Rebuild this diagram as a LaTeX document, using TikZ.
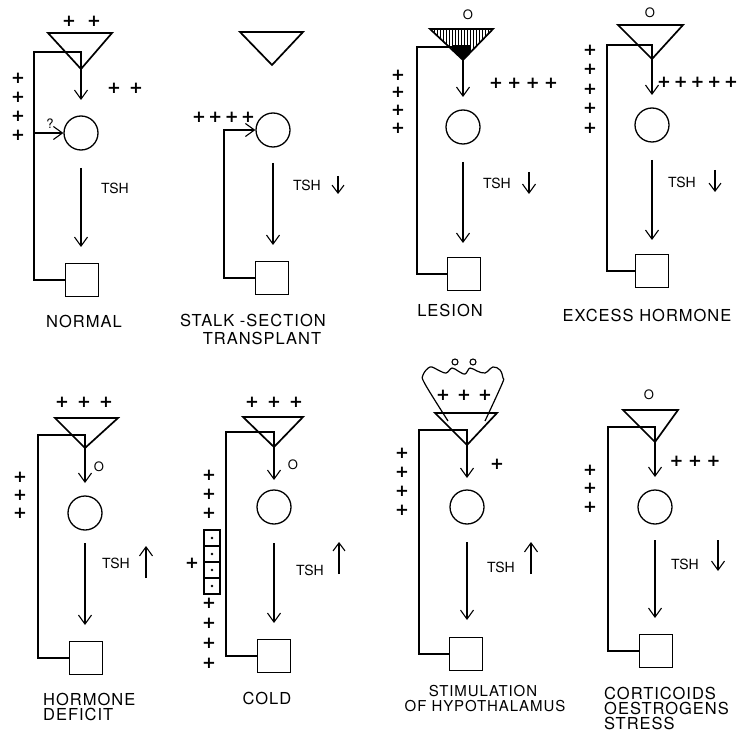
\documentclass[tikz,border=0pt]{standalone}
\usepackage{fontspec}
\usetikzlibrary{arrows.meta}
\newfontfamily\hf{TeX Gyre Heros}
\newfontfamily\pf{DejaVu Sans}
\newfontfamily\labf[LetterSpace=6]{TeX Gyre Heros}
\tikzset{
 ln/.style={line width=1.2pt, line join=miter},
 tri/.style={line width=1.7pt, line join=miter},
 arr/.style={line width=1.1pt, -{Straight Barb[length=9pt,width=13pt]}},
 sarr/.style={line width=1.1pt, -{Straight Barb[length=8pt,width=12pt]}},
 circ/.style={circle, draw, line width=1.3pt, minimum size=34pt, inner sep=0pt},
 sq/.style={rectangle, draw, line width=1.3pt, minimum size=33pt, inner sep=0pt},
 prow/.style={font=\pf\fontsize{16.5}{19}\selectfont\bfseries, inner sep=0pt},
 pcol/.style={font=\pf\fontsize{16.5}{#1}\selectfont\bfseries, align=center, inner sep=0pt},
 tsh/.style={font=\hf\fontsize{14}{16}\selectfont, inner sep=0pt},
 zero/.style={font=\hf\fontsize{13}{16}\selectfont, inner sep=0pt},
 lab/.style={font=\labf\fontsize{16.5}{18}\selectfont, inner sep=0pt},
 slab/.style={font=\labf\fontsize{15}{16}\selectfont, inner sep=0pt},
 cell/.style={rectangle, draw, line width=1.1pt, minimum size=16pt, inner sep=0pt},
}
\begin{document}
\begin{tikzpicture}[x=1pt,y=-1pt]
\fill[white] (0,0) rectangle (741,735);
\useasboundingbox (0,0) rectangle (741,735);

% ---------- Panel 1: NORMAL
\coordinate (a1) at (81,69);
\draw[tri] (48,33) -- (112,33) -- (a1) -- cycle;
\node[circ] (c1) at (81,133) {};
\node[sq] (q1) at (82,280) {};
\coordinate (k1) at (34,52);
\coordinate (t1) at (81,100);
\coordinate (s1) at (81,168);
\coordinate (e1) at (81,247);
\draw[ln] (q1.west) -| (k1) -- (k1 -| a1) -- (a1);
\draw[arr] (a1) -- (t1);
\draw[arr] (k1 |- c1) -- (c1.west);
\draw[arr] (s1) -- (e1);
\node[prow] (p1t) at (81.5,21) {+\kern11.2pt+};
\node[prow] (p1r) at (125,88) {+\kern8.2pt+};
\node[pcol=19] (p1l) at (18,106.5) {+\\+\\+\\+};
\node[zero] (qm1) at (50,124) {?};
\node[tsh] (tsh1) at (115,188) {TSH};
\node[lab] (l1) at (84,321) {NORMAL};

% ---------- Panel 2: STALK-SECTION TRANSPLANT
\coordinate (a2) at (272,65);
\draw[tri] (240,32) -- (303,32) -- (a2) -- cycle;
\node[circ] (c2) at (273,130) {};
\node[sq] (q2) at (272,278) {};
\coordinate (k2) at (224,130);
\coordinate (s2) at (273,163);
\coordinate (e2) at (273,245);
\draw[arr] (q2.west) -| (k2) -- (c2.west);
\draw[arr] (s2) -- (e2);
\node[prow] (p2l) at (223.5,117) {+\kern2.5pt+\kern2.5pt+\kern2.5pt+};
\node[tsh] (tsh2) at (307,185) {TSH};
\coordinate (d2a) at (338,176);
\coordinate (d2b) at (338,194);
\draw[sarr] (d2a) -- (d2b);
\node[lab] (l2a) at (253,320) {STALK -SECTION};
\node[lab] (l2b) at (262,338) {TRANSPLANT};

% ---------- Panel 3: LESION
\coordinate (a3) at (463,60);
\begin{scope}
 \clip (430,29) -- (493,29) -- (a3) -- cycle;
 \foreach \x in {431,434,...,493} \draw[line width=0.7pt] (\x,29) -- (\x,60);
 \fill (452,45) rectangle (470,62);
\end{scope}
\draw[tri] (430,29) -- (493,29) -- (a3) -- cycle;
\node[circ] (c3) at (463,127) {};
\node[sq] (q3) at (464,274) {};
\coordinate (k3) at (417,47);
\coordinate (t3) at (463,97);
\coordinate (s3) at (463,162);
\coordinate (e3) at (463,243);
\draw[ln] (q3.west) -| (k3) -- (k3 -| a3) -- (a3);
\draw[arr] (a3) -- (t3);
\draw[arr] (s3) -- (e3);
\node[zero] (z3) at (468,15) {O};
\node[prow] (p3r) at (523.5,83) {+\kern4.5pt+\kern4.5pt+\kern4.5pt+};
\node[pcol=17.7] (p3l) at (398,101.5) {+\\+\\+\\+};
\node[tsh] (tsh3) at (497,183) {TSH};
\coordinate (d3a) at (529,172);
\coordinate (d3b) at (529,194);
\draw[arr] (d3a) -- (d3b);
\node[lab] (l3) at (450,310) {LESION};

% ---------- Panel 4: EXCESS HORMONE
\coordinate (a4) at (652,59);
\draw[tri] (618,25) -- (683,25) -- (a4) -- cycle;
\node[circ] (c4) at (652,125) {};
\node[sq] (q4) at (652,271) {};
\coordinate (k4) at (607,45);
\coordinate (t4) at (652,95);
\coordinate (s4) at (652,160);
\coordinate (e4) at (652,240);
\draw[ln] (q4.west) -| (k4) -- (k4 -| a4) -- (a4);
\draw[arr] (a4) -- (t4);
\draw[arr] (s4) -- (e4);
\node[zero] (z4) at (650,13) {O};
\node[prow] (p4r) at (697.5,82) {+\kern2.95pt+\kern2.95pt+\kern2.95pt+\kern2.95pt+};
\node[pcol=19.5] (p4l) at (590,89) {+\\+\\+\\+\\+};
\node[tsh] (tsh4) at (682,182) {TSH};
\coordinate (d4a) at (715,170);
\coordinate (d4b) at (715,192);
\draw[sarr] (d4a) -- (d4b);
\node[lab] (l4) at (647,315) {EXCESS HORMONE};

% ---------- Panel 5: HORMONE DEFICIT
\coordinate (a5) at (85,448);
\draw[tri] (55,418) -- (118,418) -- (a5) -- cycle;
\node[circ] (c5) at (85,513) {};
\node[sq] (q5) at (86,658) {};
\coordinate (k5) at (38,435);
\coordinate (t5) at (85,483);
\coordinate (s5) at (85,543);
\coordinate (e5) at (85,625);
\draw[ln] (q5.west) -| (k5) -- (k5 -| a5) -- (a5);
\draw[arr] (a5) -- (t5);
\draw[arr] (s5) -- (e5);
\node[prow] (p5t) at (84,402) {+\kern8.2pt+\kern8.2pt+};
\node[zero] (z5) at (99,467) {O};
\node[pcol=18] (p5l) at (20,495) {+\\+\\+};
\node[tsh] (tsh5) at (116,563) {TSH};
\coordinate (u5a) at (146,578);
\coordinate (u5b) at (146,546);
\draw[arr] (u5a) -- (u5b);
\node[lab, anchor=west] (l5a) at (43,699) {HORMONE};
\node[lab, anchor=west] (l5b) at (43,714) {DEFICIT};

% ---------- Panel 6: COLD
\coordinate (a6) at (274,447);
\draw[tri] (243,417) -- (303,417) -- (a6) -- cycle;
\node[circ] (c6) at (274,507) {};
\node[sq] (q6) at (274,656) {};
\coordinate (k6) at (226,432);
\coordinate (t6) at (274,480);
\coordinate (s6) at (274,543);
\coordinate (e6) at (274,623);
\draw[ln] (q6.west) -| (k6) -- (k6 -| a6) -- (a6);
\draw[arr] (a6) -- (t6);
\draw[arr] (s6) -- (e6);
\node[prow] (p6t) at (274,402) {+\kern8.2pt+\kern8.2pt+};
\node[zero] (z6) at (293,465) {O};
\node[pcol=19] (p6u) at (209,494) {+\\+\\+};
\node[pcol=20] (p6d) at (209,633) {+\\+\\+\\+};
\node[prow] (p6s) at (192,563) {+};
\foreach \i/\y in {1/538,2/554,3/570,4/586} {
  \node[cell] (b\i) at (212,\y) {};
  \fill (b\i.center) circle (1.3pt);
}
\node[tsh] (tsh6) at (310,570) {TSH};
\coordinate (u6a) at (339,574);
\coordinate (u6b) at (339,542);
\draw[sarr] (u6a) -- (u6b);
\node[lab] (l6) at (267,698) {COLD};

% ---------- Panel 7: STIMULATION OF HYPOTHALAMUS
\coordinate (a7) at (467,445);
\draw[line width=1.2pt, line join=round] plot[smooth, tension=0.6] coordinates {(448,421) (425,384) (423,375) (430,367) (438,370) (446,373) (452,368) (458,371) (465,374) (470,368) (477,371) (485,373) (493,367) (500,370) (503,378) (502,384) (485,421)};
\draw[line width=1.1pt] (455,362) circle (3pt);
\draw[line width=1.1pt] (473,362) circle (3pt);
\draw[tri] (435,413) -- (497,413) -- (a7) -- cycle;
\node[circ] (c7) at (467,507) {};
\node[sq] (q7) at (466,654) {};
\coordinate (k7) at (419,430);
\coordinate (t7) at (467,478);
\coordinate (s7) at (467,542);
\coordinate (e7) at (467,620);
\draw[ln] (q7.west) -| (k7) -- (k7 -| a7) -- (a7);
\draw[arr] (a7) -- (t7);
\draw[arr] (s7) -- (e7);
\node[prow] (p7t) at (464,395) {+\kern7.2pt+\kern7.2pt+};
\node[prow] (p7r) at (497,464) {+};
\node[pcol=19] (p7l) at (402,481.5) {+\\+\\+\\+};
\node[tsh] (tsh7) at (501,567) {TSH};
\coordinate (u7a) at (531,574);
\coordinate (u7b) at (531,542);
\draw[arr] (u7a) -- (u7b);
\node[slab] (l7a) at (483,691) {STIMULATION};
\node[slab] (l7b) at (485,706) {OF HYPOTHALAMUS};

% ---------- Panel 8: CORTICOIDS OESTROGENS STRESS
\coordinate (a8) at (655,442);
\draw[tri] (623,410) -- (678,410) -- (a8) -- cycle;
\node[circ] (c8) at (655,507) {};
\node[sq] (q8) at (656,651) {};
\coordinate (k8) at (608,427);
\coordinate (t8) at (655,477);
\coordinate (s8) at (655,540);
\coordinate (e8) at (655,618);
\draw[ln] (q8.west) -| (k8) -- (k8 -| a8) -- (a8);
\draw[arr] (a8) -- (t8);
\draw[arr] (s8) -- (e8);
\node[zero] (z8) at (649,395) {O};
\node[prow] (p8r) at (695,461) {+\kern4.7pt+\kern4.7pt+};
\node[pcol=18.5] (p8l) at (590,488.5) {+\\+\\+};
\node[tsh] (tsh8) at (685,564) {TSH};
\coordinate (d8a) at (718,540);
\coordinate (d8b) at (718,571);
\draw[arr] (d8a) -- (d8b);
\node[lab, anchor=west] (l8a) at (604,693) {CORTICOIDS};
\node[lab, anchor=west] (l8b) at (604,708) {OESTROGENS};
\node[lab, anchor=west] (l8c) at (604,723) {STRESS};
\end{tikzpicture}
\end{document}
